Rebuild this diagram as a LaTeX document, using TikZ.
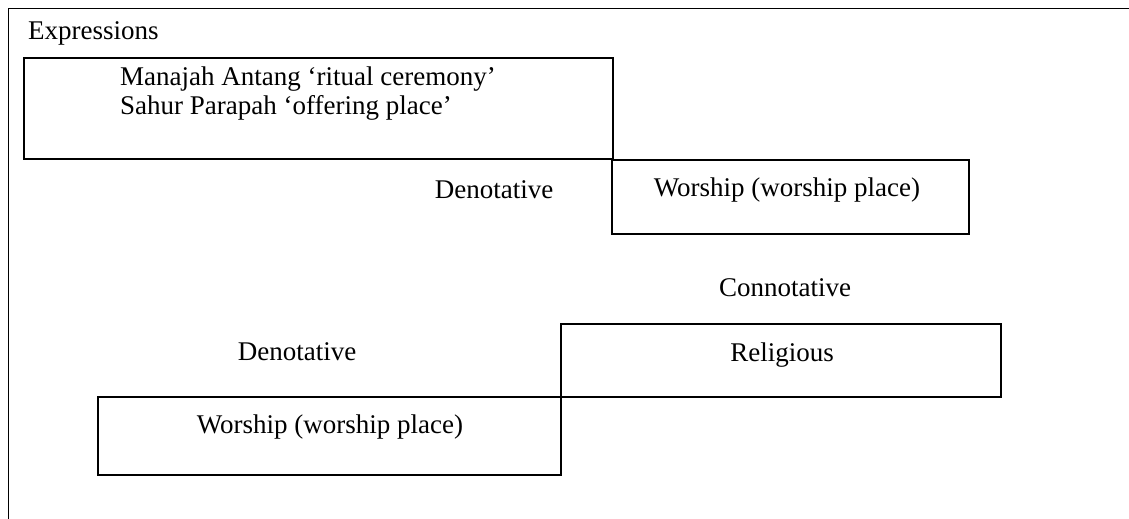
\documentclass[tikz,border=0pt]{standalone}
\usepackage{fontspec}
\setmainfont{Liberation Serif}
\usetikzlibrary{positioning}

\tikzset{
  box/.style={draw, line width=1.6pt, inner sep=0pt, anchor=north west},
  lbl/.style={font=\fontsize{27}{28.5}\selectfont, inner sep=0pt},
}

\begin{document}
\begin{tikzpicture}[x=1pt, y=-1pt]
    \useasboundingbox (0,0) rectangle (1129,519);

    % outer frame
    \coordinate (fl) at (8.5,519);
    \coordinate (fc) at (8.5,8.5);
    \coordinate (fr) at (1129,8.5);
    \draw[line width=1.8pt] (fl) -- (fc) -- (fr);

    \node[lbl, anchor=west] (expr) at (28,33) {Expressions};

    % boxes
    \node[box, minimum width=589pt, minimum height=101pt] (top) at (23,57) {};
    \node[box, minimum width=357pt, minimum height=74pt] (den1) at (611,159) {};
    \node[box, minimum width=440pt, minimum height=73pt] (con) at (560,323) {};
    \node[box, minimum width=463pt, minimum height=78pt] (den2) at (97,396) {};

    % texts
    \node[lbl, align=left, anchor=north west] (words) at (120,67)
        {Manajah Antang `ritual ceremony'\\Sahur Parapah `offering place'};
    \node[lbl] (w1) at (787,190) {Worship (worship place)};
    \node[lbl] (d1) at (494,190) {Denotative};
    \node[lbl] (c1) at (785,288) {Connotative};
    \node[lbl] (rel) at (782,355) {Religious};
    \node[lbl] (d2) at (297,352) {Denotative};
    \node[lbl] (w2) at (330,427) {Worship (worship place)};
\end{tikzpicture}
\end{document}
